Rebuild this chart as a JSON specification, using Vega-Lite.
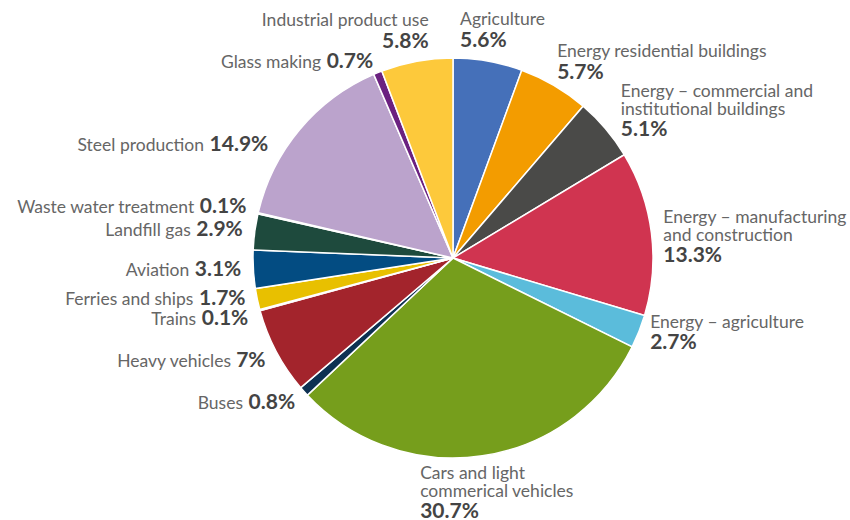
{
  "$schema": "https://vega.github.io/schema/vega-lite/v6.json",
  "width": 794,
  "height": 516,
  "autosize": {"type": "none"},
  "padding": {"left": 56, "top": 0, "right": 0, "bottom": 4},
  "background": "white",
  "config": {"view": {"stroke": null}, "font": "Lato"},
  "data": {
    "values": [
      {"i": 0, "sector": "Agriculture", "value": 5.6},
      {"i": 1, "sector": "Energy residential buildings", "value": 5.7},
      {"i": 2, "sector": "Energy – commercial and\ninstitutional buildings", "value": 5.1},
      {"i": 3, "sector": "Energy – manufacturing\nand construction", "value": 13.3},
      {"i": 4, "sector": "Energy – agriculture", "value": 2.7},
      {"i": 5, "sector": "Cars and light\ncommerical vehicles", "value": 30.7},
      {"i": 6, "sector": "Buses", "value": 0.8},
      {"i": 7, "sector": "Heavy vehicles", "value": 7},
      {"i": 8, "sector": "Trains", "value": 0.1},
      {"i": 9, "sector": "Ferries and ships", "value": 1.7},
      {"i": 10, "sector": "Aviation", "value": 3.1},
      {"i": 11, "sector": "Landfill gas", "value": 2.9},
      {"i": 12, "sector": "Waste water treatment", "value": 0.1},
      {"i": 13, "sector": "Steel production", "value": 14.9},
      {"i": 14, "sector": "Glass making", "value": 0.7},
      {"i": 15, "sector": "Industrial product use", "value": 5.8}
    ]
  },
  "encoding": {
    "theta": {"field": "value", "type": "quantitative", "stack": true},
    "order": {"field": "i", "type": "quantitative"}
  },
  "layer": [
    {
      "mark": {"type": "arc", "outerRadius": 200, "stroke": "white", "strokeWidth": 1.5},
      "encoding": {
        "color": {
          "field": "sector",
          "type": "nominal",
          "legend": null,
          "scale": {
            "domain": [
              "Agriculture",
              "Energy residential buildings",
              "Energy – commercial and\ninstitutional buildings",
              "Energy – manufacturing\nand construction",
              "Energy – agriculture",
              "Cars and light\ncommerical vehicles",
              "Buses",
              "Heavy vehicles",
              "Trains",
              "Ferries and ships",
              "Aviation",
              "Landfill gas",
              "Waste water treatment",
              "Steel production",
              "Glass making",
              "Industrial product use"
            ],
            "range": [
              "#4570b9", "#f39c00", "#4a4a48", "#d03450", "#5bbcdb", "#769e1c",
              "#0d3152", "#a3242c", "#1d3557", "#e8c000", "#034c82", "#1e4a3d",
              "#b9c6d0", "#bba3cc", "#6b2180", "#fdc93b"
            ]
          }
        }
      }
    },
    {
      "mark": {
        "type": "text",
        "radius": 212,
        "fontSize": 17.5,
        "lineHeight": 17.5,
        "lineBreak": "\n",
        "fill": "#666666",
        "align": {"expr": "sin(scale('theta', (datum.value_start + datum.value_end) / 2)) >= 0 ? 'left' : 'right'"},
        "baseline": {"expr": "(sin(scale('theta', (datum.value_start + datum.value_end) / 2)) < 0 && cos(scale('theta', (datum.value_start + datum.value_end) / 2)) < 0.96) ? 'alphabetic' : 'top'"},
        "dx": {"expr": "((sin(scale('theta', (datum.value_start + datum.value_end) / 2)) < 0 && cos(scale('theta', (datum.value_start + datum.value_end) / 2)) < 0.96) ? -(12.2 * (length(datum.value + '') - (indexof(datum.value + '', '.') >= 0 ? 1 : 0)) + (indexof(datum.value + '', '.') >= 0 ? 5.4 : 0) + 17.3 + 5) : 0) + (datum.sector == 'Agriculture' ? -30 : indexof(datum.sector, 'Cars') == 0 ? -64 : datum.sector == 'Industrial product use' ? 14 : datum.sector == 'Steel production' ? -22 : indexof(datum.sector, 'Energy – commercial') == 0 ? 6 : datum.sector == 'Energy residential buildings' ? -3 : 0)"},
        "dy": {"expr": "((sin(scale('theta', (datum.value_start + datum.value_end) / 2)) < 0 && cos(scale('theta', (datum.value_start + datum.value_end) / 2)) < 0.96) ? 6 : 3 - (length(split(datum.sector, '\\n')) * 17.5 + 24) * (1 + cos(scale('theta', (datum.value_start + datum.value_end) / 2))) / 2) + (datum.sector == 'Steel production' ? 23 : datum.sector == 'Trains' ? 6 : datum.sector == 'Ferries and ships' ? -3 : datum.sector == 'Waste water treatment' ? -4 : indexof(datum.sector, 'Energy – manufacturing') == 0 ? 8 : datum.sector == 'Energy – agriculture' ? -12 : indexof(datum.sector, 'Energy – commercial') == 0 ? 8 : datum.sector == 'Energy residential buildings' ? 4 : datum.sector == 'Industrial product use' ? 1 : indexof(datum.sector, 'Cars') == 0 ? -5 : datum.sector == 'Buses' ? 4 : datum.sector == 'Heavy vehicles' ? 4 : 0)"}
      },
      "encoding": {
        "detail": {"field": "sector", "type": "nominal"},
        "text": {"field": "sector", "type": "nominal"}
      }
    },
    {
      "mark": {
        "type": "text",
        "radius": 212,
        "fontSize": 21,
        "fontWeight": "bold",
        "fill": "#444444",
        "text": {"expr": "datum.value + '%'"},
        "align": {"expr": "sin(scale('theta', (datum.value_start + datum.value_end) / 2)) >= 0 ? 'left' : 'right'"},
        "baseline": {"expr": "(sin(scale('theta', (datum.value_start + datum.value_end) / 2)) < 0 && cos(scale('theta', (datum.value_start + datum.value_end) / 2)) < 0.96) ? 'alphabetic' : 'top'"},
        "dx": {"expr": "datum.sector == 'Agriculture' ? -30 : indexof(datum.sector, 'Cars') == 0 ? -64 : datum.sector == 'Industrial product use' ? 14 : datum.sector == 'Steel production' ? -22 : indexof(datum.sector, 'Energy – commercial') == 0 ? 6 : datum.sector == 'Energy residential buildings' ? -3 : 0"},
        "dy": {"expr": "((sin(scale('theta', (datum.value_start + datum.value_end) / 2)) < 0 && cos(scale('theta', (datum.value_start + datum.value_end) / 2)) < 0.96) ? 6 : 3 - (length(split(datum.sector, '\\n')) * 17.5 + 24) * (1 + cos(scale('theta', (datum.value_start + datum.value_end) / 2))) / 2 + length(split(datum.sector, '\\n')) * 17.5 + 1) + (datum.sector == 'Steel production' ? 23 : datum.sector == 'Trains' ? 6 : datum.sector == 'Ferries and ships' ? -3 : datum.sector == 'Waste water treatment' ? -4 : indexof(datum.sector, 'Energy – manufacturing') == 0 ? 8 : datum.sector == 'Energy – agriculture' ? -12 : indexof(datum.sector, 'Energy – commercial') == 0 ? 8 : datum.sector == 'Energy residential buildings' ? 4 : datum.sector == 'Industrial product use' ? 1 : indexof(datum.sector, 'Cars') == 0 ? -5 : datum.sector == 'Buses' ? 4 : datum.sector == 'Heavy vehicles' ? 4 : 0)"}
      },
      "encoding": {
        "detail": {"field": "sector", "type": "nominal"}
      }
    }
  ]
}
